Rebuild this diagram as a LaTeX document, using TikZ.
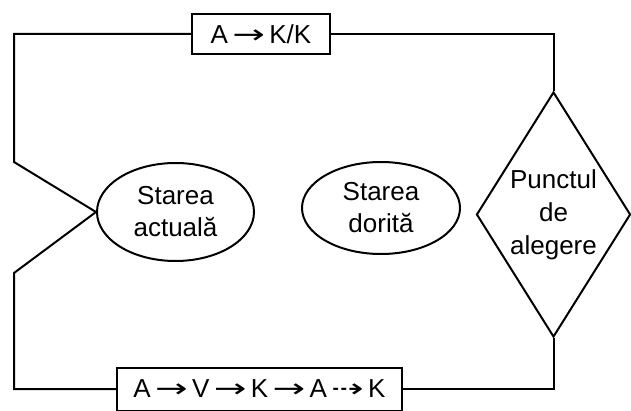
\documentclass[tikz,border=0pt]{standalone}
\usepackage{fontspec}
\usepackage{graphicx}
\setmainfont{Liberation Sans}
\newfontfamily\arrowfont{DejaVu Sans}
\usetikzlibrary{shapes.geometric}
% stretched arrows used inside the sequence boxes
\newcommand{\ar}{\,\scalebox{1.5}[1.0]{\arrowfont →}\,}
\newcommand{\dar}{\,\scalebox{1.5}[1.0]{\arrowfont ⇢}\,}
\begin{document}
\begin{tikzpicture}[x=1pt,y=-1pt,
  line/.style={line width=2pt},
  statebox/.style={line width=2pt, draw, ellipse, inner sep=0pt, align=center,
    font=\fontsize{26}{32}\selectfont},
  pathbox/.style={line width=2pt, draw, rectangle, inner sep=0pt, fill=white,
    font=\fontsize{26}{30}\selectfont},
  choice/.style={line width=2pt, draw, diamond, aspect=0.6, inner sep=0pt,
    align=center, font=\fontsize{26}{33}\selectfont}]
\useasboundingbox (0,0) rectangle (631,411);

% nodes
\node[pathbox, minimum width=138pt, minimum height=40pt] (top) at (261,34) {A\ar K/K};
\node[pathbox, minimum width=285pt, minimum height=43pt] (bot) at (259.5,389) {A\ar V\ar K\ar A\dar K};
\node[statebox, minimum width=157pt, minimum height=98pt] (now) at (175.5,212) {Starea\\actuală};
\node[statebox, minimum width=158pt, minimum height=92pt] (goal) at (381,208) {Starea\\dorită};
\node[choice, minimum width=154pt, minimum height=245pt] (pick) at (553.5,214.5) {Punctul\\de\\alegere};

% bends of the loop
\coordinate (tl) at (14,34);
\coordinate (tr) at (553.5,34);
\coordinate (ul) at (14,162);
\coordinate (ll) at (14,273);
\coordinate (bl) at (14,389);
\coordinate (br) at (553.5,389);

% connectors
\draw[line] (top.west) -- (tl) -- (ul) -- (now.west);
\draw[line] (now.west) -- (ll) -- (bl) -- (bot.west);
\draw[line] (top.east) -- (tr) -- (pick.north);
\draw[line] (pick.south) -- (br) -- (bot.east);
\end{tikzpicture}
\end{document}
